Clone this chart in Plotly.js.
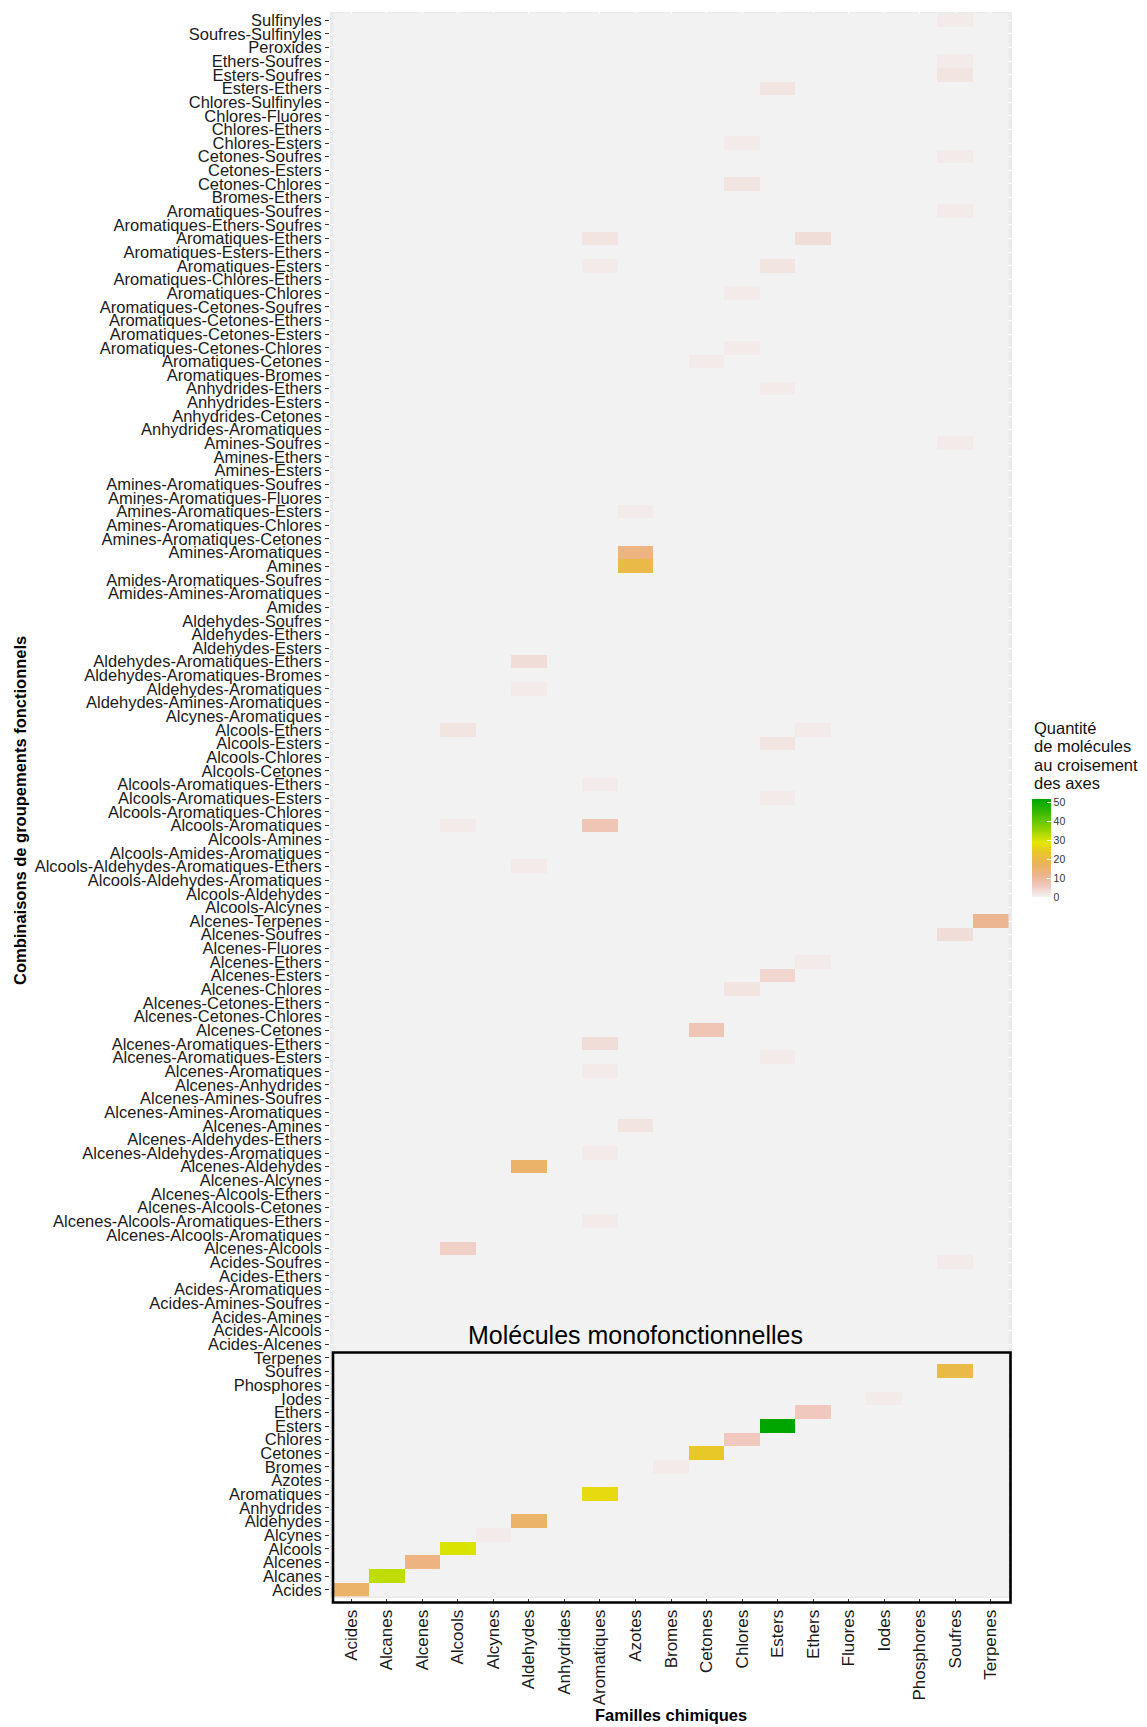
<!DOCTYPE html>
<html>
<head>
<meta charset="utf-8">
<script src="https://cdn.plot.ly/plotly-3.0.1.min.js"></script>
<style>
  html, body { margin: 0; padding: 0; background: #ffffff; }
  #chart { width: 1147px; height: 1727px; }
</style>
</head>
<body>
<div id="chart"></div>
<script>
// ---- Data ----
const xLabels = ['Acides','Alcanes','Alcenes','Alcools','Alcynes','Aldehydes','Anhydrides','Aromatiques','Azotes','Bromes','Cetones','Chlores','Esters','Ethers','Fluores','Iodes','Phosphores','Soufres','Terpenes'];

// y categories, top to bottom as displayed
const yLabels = [
  'Sulfinyles','Soufres-Sulfinyles','Peroxides','Ethers-Soufres','Esters-Soufres','Esters-Ethers',
  'Chlores-Sulfinyles','Chlores-Fluores','Chlores-Ethers','Chlores-Esters','Cetones-Soufres','Cetones-Esters',
  'Cetones-Chlores','Bromes-Ethers','Aromatiques-Soufres','Aromatiques-Ethers-Soufres','Aromatiques-Ethers',
  'Aromatiques-Esters-Ethers','Aromatiques-Esters','Aromatiques-Chlores-Ethers','Aromatiques-Chlores',
  'Aromatiques-Cetones-Soufres','Aromatiques-Cetones-Ethers','Aromatiques-Cetones-Esters','Aromatiques-Cetones-Chlores',
  'Aromatiques-Cetones','Aromatiques-Bromes','Anhydrides-Ethers','Anhydrides-Esters','Anhydrides-Cetones',
  'Anhydrides-Aromatiques','Amines-Soufres','Amines-Ethers','Amines-Esters','Amines-Aromatiques-Soufres',
  'Amines-Aromatiques-Fluores','Amines-Aromatiques-Esters','Amines-Aromatiques-Chlores','Amines-Aromatiques-Cetones',
  'Amines-Aromatiques','Amines','Amides-Aromatiques-Soufres','Amides-Amines-Aromatiques','Amides',
  'Aldehydes-Soufres','Aldehydes-Ethers','Aldehydes-Esters','Aldehydes-Aromatiques-Ethers','Aldehydes-Aromatiques-Bromes',
  'Aldehydes-Aromatiques','Aldehydes-Amines-Aromatiques','Alcynes-Aromatiques','Alcools-Ethers','Alcools-Esters',
  'Alcools-Chlores','Alcools-Cetones','Alcools-Aromatiques-Ethers','Alcools-Aromatiques-Esters','Alcools-Aromatiques-Chlores',
  'Alcools-Aromatiques','Alcools-Amines','Alcools-Amides-Aromatiques','Alcools-Aldehydes-Aromatiques-Ethers',
  'Alcools-Aldehydes-Aromatiques','Alcools-Aldehydes','Alcools-Alcynes','Alcenes-Terpenes','Alcenes-Soufres',
  'Alcenes-Fluores','Alcenes-Ethers','Alcenes-Esters','Alcenes-Chlores','Alcenes-Cetones-Ethers','Alcenes-Cetones-Chlores',
  'Alcenes-Cetones','Alcenes-Aromatiques-Ethers','Alcenes-Aromatiques-Esters','Alcenes-Aromatiques','Alcenes-Anhydrides',
  'Alcenes-Amines-Soufres','Alcenes-Amines-Aromatiques','Alcenes-Amines','Alcenes-Aldehydes-Ethers',
  'Alcenes-Aldehydes-Aromatiques','Alcenes-Aldehydes','Alcenes-Alcynes','Alcenes-Alcools-Ethers','Alcenes-Alcools-Cetones',
  'Alcenes-Alcools-Aromatiques-Ethers','Alcenes-Alcools-Aromatiques','Alcenes-Alcools','Acides-Soufres','Acides-Ethers',
  'Acides-Aromatiques','Acides-Amines-Soufres','Acides-Amines','Acides-Alcools','Acides-Alcenes',
  'Terpenes','Soufres','Phosphores','Iodes','Ethers','Esters','Chlores','Cetones','Bromes','Azotes',
  'Aromatiques','Anhydrides','Aldehydes','Alcynes','Alcools','Alcenes','Alcanes','Acides'
];

// Non-empty cells (every other cell is 0)
const cellRow = [
  'Sulfinyles','Ethers-Soufres','Esters-Soufres','Esters-Ethers','Chlores-Esters','Cetones-Soufres','Cetones-Chlores',
  'Aromatiques-Soufres','Aromatiques-Ethers','Aromatiques-Ethers','Aromatiques-Esters','Aromatiques-Esters',
  'Aromatiques-Chlores','Aromatiques-Cetones-Chlores','Aromatiques-Cetones','Anhydrides-Ethers','Amines-Soufres',
  'Amines-Aromatiques-Esters','Amines-Aromatiques','Amines','Aldehydes-Aromatiques-Ethers','Aldehydes-Aromatiques',
  'Alcools-Ethers','Alcools-Ethers','Alcools-Esters','Alcools-Aromatiques-Ethers','Alcools-Aromatiques-Esters',
  'Alcools-Aromatiques','Alcools-Aromatiques','Alcools-Aldehydes-Aromatiques-Ethers','Alcenes-Terpenes','Alcenes-Soufres',
  'Alcenes-Ethers','Alcenes-Esters','Alcenes-Chlores','Alcenes-Cetones','Alcenes-Aromatiques-Ethers',
  'Alcenes-Aromatiques-Esters','Alcenes-Aromatiques','Alcenes-Amines','Alcenes-Aldehydes-Aromatiques','Alcenes-Aldehydes',
  'Alcenes-Alcools-Aromatiques-Ethers','Alcenes-Alcools','Acides-Soufres',
  'Soufres','Iodes','Ethers','Esters','Chlores','Cetones','Bromes','Aromatiques','Aldehydes','Alcynes','Alcools',
  'Alcenes','Alcanes','Acides'
];
const cellCol = [
  'Soufres','Soufres','Soufres','Esters','Chlores','Soufres','Chlores',
  'Soufres','Aromatiques','Ethers','Aromatiques','Esters',
  'Chlores','Chlores','Cetones','Esters','Soufres',
  'Azotes','Azotes','Azotes','Aldehydes','Aldehydes',
  'Alcools','Ethers','Esters','Aromatiques','Esters',
  'Alcools','Aromatiques','Aldehydes','Terpenes','Soufres',
  'Ethers','Esters','Chlores','Cetones','Aromatiques',
  'Esters','Aromatiques','Azotes','Aromatiques','Aldehydes',
  'Aromatiques','Alcools','Soufres',
  'Soufres','Iodes','Ethers','Esters','Chlores','Cetones','Bromes','Aromatiques','Aldehydes','Alcynes','Alcools',
  'Alcenes','Alcanes','Acides'
];
const cellValue = [
  1,1,2,2,1,1,2,
  1,2,3,1,2,
  1,1,1,1,1,
  1,13,20,3,1,
  2,1,2,1,1,
  1,7,1,11,3,
  1,4,2,7,3,
  1,1,2,1,16,
  1,5,1,
  20,1,6,52,6,24,1,27,16,1,30,
  13,32,16
];

const colorbarTicks = [0,10,20,30,40,50];
const legendTitleLines = ['Quantité','de molécules','au croisement','des axes'];

// ---- Build the matrix ----
const z = yLabels.map(() => xLabels.map(() => 0));
for (let k = 0; k < cellRow.length; k++) {
  const i = yLabels.indexOf(cellRow[k]);
  const j = xLabels.indexOf(cellCol[k]);
  if (i >= 0 && j >= 0) z[i][j] = cellValue[k];
}

// ---- Geometry helpers (pixel -> paper) ----
const L = 330, R = 1012, T = 12, B = 1598, W = 1147, H = 1727;
const px = x => (x - L) / (R - L);
const py = y => (B - y) / (B - T);

const terrain = [
  [0, '#F2F2F2'], [1/9, '#F0C9C0'], [2/9, '#EDB48E'], [3/9, '#EBB25E'], [4/9, '#E8C32E'],
  [5/9, '#E6E600'], [6/9, '#A0D600'], [7/9, '#63C600'], [8/9, '#2DB600'], [1, '#00A600']
];

const font = 'Liberation Sans, Arial, sans-serif';

const trace = {
  type: 'heatmap',
  x: xLabels,
  y: yLabels,
  z: z,
  zmin: 0,
  zmax: 52,
  colorscale: terrain,
  xgap: 0, ygap: 0,
  hovertemplate: '%{y} / %{x}: %{z}<extra></extra>',
  colorbar: {
    xref: 'paper', x: px(1032), xanchor: 'left', xpad: 0,
    yref: 'paper', y: py(799), yanchor: 'top', ypad: 0,
    len: 98, lenmode: 'pixels',
    thickness: 19, thicknessmode: 'pixels',
    outlinewidth: 0,
    tickmode: 'array', tickvals: colorbarTicks, ticktext: colorbarTicks.map(String),
    ticks: 'inside', ticklen: 4, tickcolor: '#ffffff', tickwidth: 1,
    tickfont: { family: font, size: 10.5, color: '#333333' },
    title: { text: '' }
  }
};

const annotations = legendTitleLines.map((t, k) => ({
  text: t, xref: 'paper', yref: 'paper',
  x: px(1032), y: py(727.5 + k * 18.6), xanchor: 'left', yanchor: 'middle',
  showarrow: false, font: { family: font, size: 16.5, color: '#111111' }
}));
annotations.push({
  text: 'Molécules monofonctionnelles', xref: 'paper', yref: 'paper',
  x: px(635), y: py(1335), xanchor: 'center', yanchor: 'middle', showarrow: false,
  font: { family: font, size: 25, color: '#000000' }
});
annotations.push({
  text: '<b>Familles chimiques</b>', xref: 'paper', yref: 'paper',
  x: px(671), y: py(1715), xanchor: 'center', yanchor: 'middle', showarrow: false,
  font: { family: font, size: 16.5, color: '#000000' }
});
annotations.push({
  text: '<b>Combinaisons de groupements fonctionnels</b>', xref: 'paper', yref: 'paper',
  x: px(20), y: py(811), xanchor: 'center', yanchor: 'middle', showarrow: false, textangle: -90,
  font: { family: font, size: 16.5, color: '#000000' }
});

const layout = {
  width: W, height: H,
  margin: { l: L, r: W - R, t: T, b: H - B, pad: 0 },
  paper_bgcolor: '#ffffff',
  plot_bgcolor: '#EBEBEB',
  showlegend: false,
  xaxis: {
    type: 'category', categoryorder: 'array', categoryarray: xLabels,
    range: [-0.6, xLabels.length - 0.4],
    tickmode: 'linear', tick0: 0, dtick: 1,
    tickangle: -90,
    ticks: 'outside', ticklen: 4, tickwidth: 1, tickcolor: '#333333',
    tickfont: { family: font, size: 17, color: '#1a1a1a' },
    showgrid: true, gridcolor: '#ffffff', gridwidth: 1,
    zeroline: false, showline: false, automargin: false, fixedrange: true
  },
  yaxis: {
    type: 'category', categoryorder: 'array', categoryarray: yLabels,
    range: [yLabels.length - 0.4, -0.6],
    tickmode: 'linear', tick0: 0, dtick: 1,
    ticks: 'outside', ticklen: 4, tickwidth: 1, tickcolor: '#333333',
    tickfont: { family: font, size: 16.5, color: '#1a1a1a' },
    showgrid: true, gridcolor: '#ffffff', gridwidth: 1,
    zeroline: false, showline: false, automargin: false, fixedrange: true
  },
  shapes: [{
    type: 'rect', xref: 'paper', yref: 'paper', layer: 'above',
    x0: px(333), x1: px(1010.5), y0: py(1602.5), y1: py(1352.5),
    line: { color: '#000000', width: 2.6 }, fillcolor: 'rgba(0,0,0,0)'
  }],
  annotations: annotations
};

Plotly.newPlot('chart', [trace], layout, { displayModeBar: false, staticPlot: true });
</script>
</body>
</html>
